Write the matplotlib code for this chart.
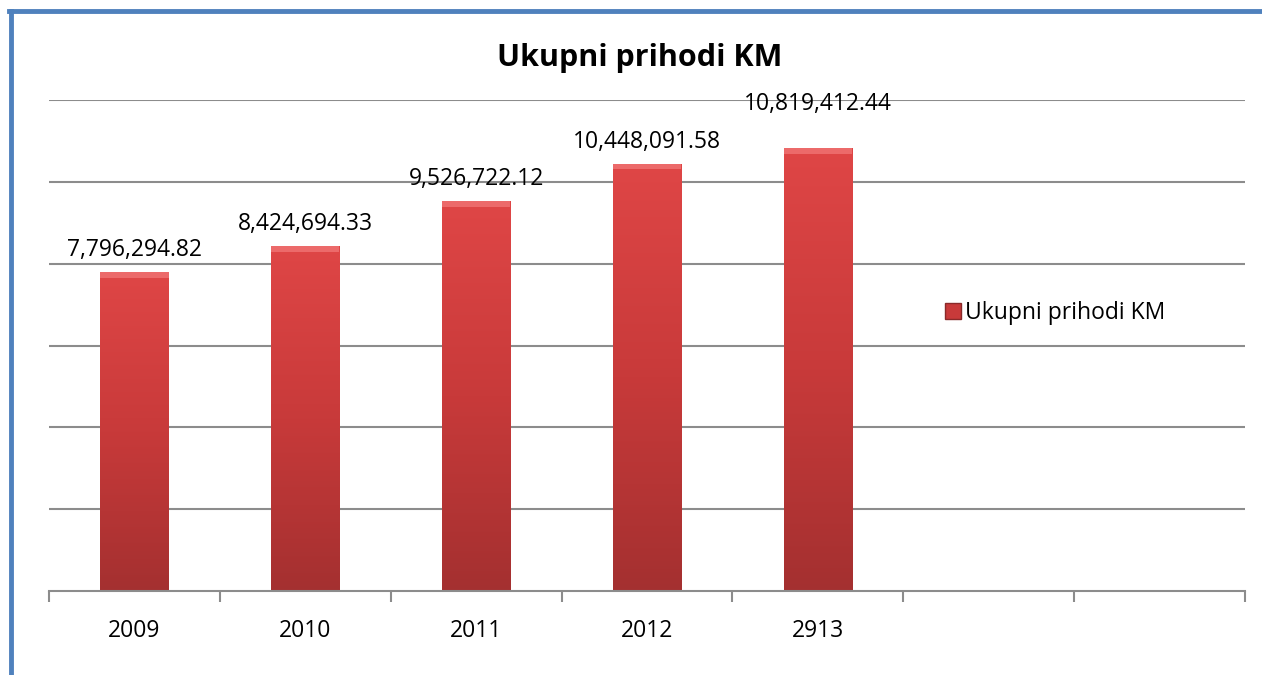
import numpy as np
import matplotlib.pyplot as plt
from matplotlib.lines import Line2D
from matplotlib.patches import Rectangle
from matplotlib.colors import LinearSegmentedColormap

# data
years = ["2009", "2010", "2011", "2012", "2913", "", ""]
values = [7796294.82, 8424694.33, 9526722.12, 10448091.58, 10819412.44]
series_name = "Ukupni prihodi KM"
title = "Ukupni prihodi KM"

plt.rcParams['font.family'] = ['Open Sans', 'DejaVu Sans']

fig = plt.figure(figsize=(12.62, 6.75), dpi=100)
ax = fig.add_axes([0.0388, 0.1244, 0.9477, 0.7274])

x = np.arange(len(values))
bars = ax.bar(x, values, width=0.4, color="#d84141", edgecolor="none", zorder=2)

# label gap above the bar, in points (last one sits higher in the original)
label_pad = [10, 10, 10, 10, 32]

# vertical gradient on each bar, lighter at top, darker at bottom
grad = np.linspace(0, 1, 256).reshape(-1, 1)
cmap = LinearSegmentedColormap.from_list("barred", ["#a43030", "#c83a3a", "#df4646"])
for b, pad in zip(bars, label_pad):
    bx, by = b.get_x(), b.get_y()
    w, h = b.get_width(), b.get_height()
    im = ax.imshow(grad, cmap=cmap, extent=[bx, bx + w, 0, h], origin="lower",
                   aspect="auto", zorder=2)
    im.set_clip_path(b)
    # bevel on top edge
    ax.add_patch(Rectangle((bx, h - 0.012 * 12e6), w, 0.012 * 12e6,
                           facecolor="#ec6a6a", edgecolor="none", zorder=3))
    ax.annotate(f"{h:,.2f}", (bx + w / 2, h), xytext=(0, pad), textcoords="offset pixels",
                ha="center", va="bottom", fontsize=16.5, zorder=4)

ax.set_xlim(-0.5, len(years) - 0.5)
ax.set_ylim(0, 12e6)
ax.set_yticks(np.arange(2e6, 12e6 + 1, 2e6))
ax.yaxis.grid(True, color="#8c8c8c", linewidth=1.5, zorder=0)
ax.set_axisbelow(True)
ax.tick_params(axis="y", left=False, labelleft=False)

ax.set_xticks(np.arange(-0.5, len(years), 1))
ax.set_xticklabels([])
ax.set_xticks(np.arange(len(years)), minor=True)
ax.set_xticklabels(years, minor=True, fontsize=16.5)
ax.tick_params(axis="x", which="major", length=8, color="#8c8c8c", width=1.5)
ax.tick_params(axis="x", which="minor", length=0, pad=20)

for s in ["top", "right", "left"]:
    ax.spines[s].set_visible(False)
ax.spines["bottom"].set_color("#8c8c8c")
ax.spines["bottom"].set_linewidth(1.5)

fig.text(0.507, 0.914, title, ha="center", va="center", fontsize=22, fontweight="bold")

handle = Line2D([], [], marker="s", linestyle="none", markersize=12,
                markerfacecolor="#c83a3a", markeredgecolor="#8a2a2a")
fig.legend([handle], [series_name], loc="center left", bbox_to_anchor=(0.73, 0.536),
           frameon=False, fontsize=16.5, handletextpad=0.0, handlelength=1.0)

# blue chart border (left and top)
fig.add_artist(Line2D([0.0087, 0.0087], [0, 0.984], color="#4f81bd", linewidth=3.5,
                      transform=fig.transFigure))
fig.add_artist(Line2D([0.0075, 1.0], [0.983, 0.983], color="#4f81bd", linewidth=3.5,
                      transform=fig.transFigure))

fig.savefig("out.png", dpi=100)
